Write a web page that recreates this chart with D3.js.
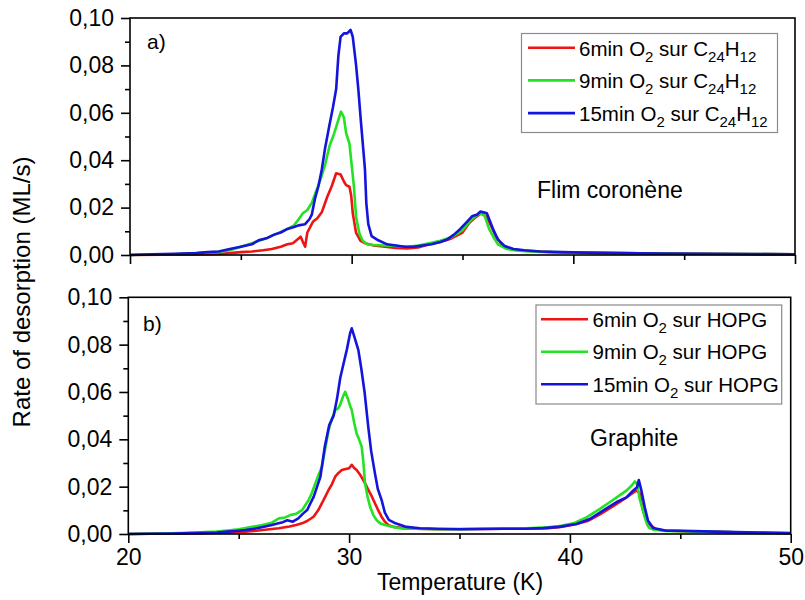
<!DOCTYPE html>
<html><head><meta charset="utf-8">
<script src="https://cdn.jsdelivr.net/npm/d3@7"></script>
<style>
body{margin:0;background:#fff}
svg{display:block}
text{font-family:Arial,"Liberation Sans",sans-serif;fill:#000}
</style>
</head><body><svg id="c" width="805" height="600"></svg>
<script>
// ---------- axis ticks ----------
const xTicks = [20, 30, 40, 50];
const xMinor = [25, 35, 45];
const yTicks = [0, 0.02, 0.04, 0.06, 0.08, 0.10];
const yMinor = [0.01, 0.03, 0.05, 0.07, 0.09];

// ---------- legend text ----------
const times = ["6min", "9min", "15min"];
const substrateA = "C24H12";
const substrateB = "HOPG";
const panelNotes = ["Flim coronène", "Graphite"];
const panelTags = ["a)", "b)"];

// ---------- panel a) : coronene film ----------
const T6a = [20,23,24,24.5,25,25.5,26,26.4,26.8,27.1,27.35,27.55,27.7,27.8,27.9,28.0,28.25,28.45,28.65,28.9,29.1,29.3,29.5,29.65,29.75,29.9,29.98,30.05,30.2,30.4,30.6,31.0,31.5,32,32.5,33,33.5,34,34.5,35,35.3,35.6,35.85,36.1,36.3,36.5,36.8,37.2,37.8,39,41,44,47,50];
const V6a = [0,0.0002,0.0004,0.0008,0.0012,0.0015,0.002,0.0025,0.0035,0.0045,0.005,0.0065,0.0077,0.0055,0.0035,0.0095,0.014,0.0155,0.018,0.0246,0.029,0.0345,0.034,0.031,0.0295,0.0288,0.025,0.0176,0.0093,0.006,0.005,0.004,0.0035,0.003,0.0028,0.0032,0.0045,0.0055,0.007,0.0095,0.0135,0.016,0.0176,0.016,0.012,0.008,0.004,0.0025,0.0018,0.0012,0.0009,0.0006,0.0004,0.0003];

const T9a = [20,22,23,24,24.5,25,25.5,26,26.5,27,27.4,27.6,27.8,28.0,28.2,28.4,28.6,28.8,29.0,29.2,29.4,29.52,29.65,29.75,29.9,30.0,30.1,30.2,30.35,30.5,30.7,31.0,31.5,32,32.5,33,33.5,34,34.5,35,35.3,35.6,35.8,36.0,36.2,36.4,36.6,37,37.5,38.5,40,42,45,48,50];
const V9a = [0,0.0003,0.0008,0.0013,0.002,0.0035,0.005,0.0065,0.0085,0.0105,0.0125,0.015,0.0176,0.019,0.022,0.027,0.032,0.038,0.046,0.051,0.057,0.0605,0.058,0.0514,0.047,0.038,0.029,0.016,0.009,0.006,0.0045,0.0042,0.004,0.0038,0.0035,0.004,0.005,0.006,0.0075,0.0105,0.014,0.0165,0.0176,0.0165,0.011,0.0075,0.0045,0.0025,0.0018,0.0013,0.001,0.0008,0.0005,0.0004,0.0003];

const T15a = [20,21,22,23,23.5,24,24.5,25,25.5,25.8,26.2,26.5,26.8,27.1,27.4,27.6,27.9,28.1,28.2,28.35,28.5,28.65,28.8,29.0,29.15,29.3,29.4,29.5,29.65,29.8,29.95,30.05,30.2,30.3,30.42,30.52,30.6,30.66,30.75,30.9,31.2,31.6,32.0,32.4,32.8,33.2,33.6,34.0,34.3,34.6,34.9,35.2,35.45,35.65,35.8,35.95,36.1,36.25,36.4,36.6,36.9,37.3,37.8,38.5,39.5,40.5,42,44,46,48,50];
const V15a = [0,0.0003,0.0005,0.0008,0.0012,0.0015,0.0025,0.0035,0.0045,0.0062,0.0072,0.0086,0.0095,0.011,0.0118,0.0125,0.013,0.0152,0.017,0.024,0.029,0.036,0.045,0.055,0.062,0.07,0.084,0.092,0.0935,0.0935,0.095,0.092,0.08,0.07,0.056,0.045,0.036,0.022,0.013,0.008,0.0062,0.0045,0.004,0.0035,0.0035,0.004,0.0045,0.0055,0.0065,0.0085,0.011,0.014,0.0165,0.017,0.0183,0.018,0.0176,0.014,0.0105,0.0065,0.0038,0.0025,0.002,0.0015,0.0012,0.001,0.0008,0.0006,0.0005,0.0004,0.0003];

// ---------- panel b) : graphite (HOPG) ----------
const T6b = [20,22,23,24,24.5,25,25.32,25.8,26.3,26.82,27.3,27.6,27.87,28.1,28.39,28.6,28.77,28.92,29.07,29.22,29.37,29.52,29.67,29.85,30.0,30.12,30.22,30.34,30.5,30.64,30.75,30.87,31.02,31.17,31.32,31.47,31.62,31.77,32.0,32.4,33,34,35,36,37,38,39,39.6,40.2,40.8,41.4,42.0,42.5,42.8,43.0,43.15,43.31,43.45,43.6,43.75,43.9,44.3,45,46,47,48,49,50];
const V6b = [0,0.0002,0.0003,0.0005,0.0007,0.0009,0.001,0.0014,0.0019,0.0024,0.0032,0.0038,0.0045,0.0055,0.0073,0.01,0.013,0.0158,0.0186,0.021,0.0242,0.0258,0.027,0.0275,0.0278,0.0292,0.028,0.027,0.025,0.0228,0.021,0.0186,0.016,0.013,0.01,0.0073,0.0052,0.0038,0.003,0.0025,0.0022,0.002,0.0021,0.0021,0.0022,0.0022,0.0024,0.003,0.004,0.0055,0.0085,0.012,0.015,0.017,0.0183,0.0175,0.0099,0.0065,0.0042,0.003,0.002,0.0015,0.0012,0.001,0.0008,0.0006,0.0004,0.0003];

const T9b = [20,22,23,24,24.5,25,25.5,26.07,26.5,26.82,27.1,27.34,27.6,27.87,28.0,28.17,28.3,28.47,28.62,28.77,28.9,29.07,29.2,29.37,29.5,29.59,29.72,29.82,29.95,30.05,30.12,30.23,30.34,30.45,30.57,30.65,30.72,30.83,30.95,31.1,31.24,31.4,31.62,32.0,32.3,33,34,35,36,37,38,39,39.6,40.15,40.75,41.36,41.8,42.2,42.56,42.8,42.94,43.05,43.16,43.28,43.39,43.5,43.6,43.8,44.3,45,46,47,48,49,50];
const V9b = [0,0.0003,0.0006,0.001,0.0015,0.002,0.0028,0.0038,0.0048,0.0066,0.007,0.008,0.0085,0.0101,0.012,0.0144,0.017,0.0214,0.025,0.0284,0.035,0.0439,0.048,0.0524,0.053,0.0545,0.058,0.0601,0.057,0.054,0.0524,0.047,0.0425,0.04,0.0369,0.03,0.0214,0.016,0.0115,0.008,0.0059,0.0045,0.0038,0.003,0.0024,0.0022,0.002,0.002,0.0022,0.0022,0.0024,0.0028,0.0035,0.0045,0.007,0.0106,0.0134,0.016,0.0183,0.0205,0.0222,0.021,0.0148,0.011,0.007,0.004,0.0025,0.0018,0.0013,0.0012,0.001,0.0008,0.0006,0.0004,0.0003];

const T15b = [20,22,23,24,24.5,25,25.3,25.7,26.1,26.5,26.8,27.0,27.2,27.45,27.7,27.9,28.1,28.25,28.4,28.55,28.7,28.9,29.1,29.3,29.45,29.6,29.75,29.9,30.05,30.12,30.25,30.42,30.55,30.7,30.87,31.0,31.17,31.3,31.47,31.62,31.8,32.1,32.6,33.2,34,35,36,37,38,38.8,39.5,40.0,40.3,40.9,41.5,42.1,42.56,42.86,43.04,43.12,43.24,43.39,43.54,43.77,44.37,45,45.6,46.5,47.5,48.5,49.3,50];
const V15b = [0,0.0002,0.0004,0.0006,0.001,0.0014,0.0017,0.0022,0.003,0.0038,0.0045,0.005,0.0058,0.0052,0.0066,0.0085,0.0101,0.013,0.0158,0.02,0.0242,0.037,0.046,0.05,0.057,0.066,0.072,0.078,0.085,0.0869,0.083,0.0777,0.07,0.06,0.045,0.035,0.0256,0.019,0.0144,0.009,0.006,0.0045,0.003,0.0024,0.0022,0.002,0.0021,0.0022,0.0022,0.0025,0.003,0.0038,0.0042,0.0063,0.0099,0.0134,0.0155,0.0183,0.0197,0.0228,0.0183,0.0113,0.0056,0.0025,0.0014,0.0014,0.0012,0.001,0.0008,0.0006,0.0005,0.0004];

// ---------- drawing ----------
const colors = ["#ee1414", "#22e222", "#1414dc"];
const svg = d3.select("#c");
const fmt = d => d3.format(".2f")(d).replace(".", ",");

const panels = [
  { box: [130, 795, 18, 255], data: [[T6a, V6a], [T9a, V9a], [T15a, V15a]], showX: false,
    tag: [147, 49], note: [537, 198], sub: substrateA,
    leg: { x: 521.5, y: 33.5, w: 256, h: 99, lx0: 528, lx1: 575, ly0: 47.7, dy: 32.7, tx: 579, tdy: 8 } },
  { box: [128.3, 790.7, 297.3, 534], data: [[T6b, V6b], [T9b, V9b], [T15b, V15b]], showX: true,
    tag: [143, 331], note: [590, 446], sub: substrateB,
    leg: { x: 536, y: 305, w: 245.7, h: 99, lx0: 541, lx1: 588, ly0: 319.3, dy: 32.5, tx: 592.5, tdy: 7.5 } }
];

panels.forEach((p, pi) => {
  const [x0, x1, y0, y1] = p.box;
  const x = d3.scaleLinear().domain([20, 50]).range([x0, x1]);
  const y = d3.scaleLinear().domain([0, 0.10]).range([y1, y0]);
  const g = svg.append("g");

  const line = d3.line().x(d => x(d[0])).y(d => y(d[1]));
  p.data.forEach(([T, V], i) => {
    const pts = T.map((t, k) => [t, V[k]]);
    g.append("path").datum(pts).attr("d", line)
      .attr("fill", "none").attr("stroke", colors[i])
      .attr("stroke-width", 2.6).attr("stroke-linejoin", "round");
  });

  const ya = g.append("g").attr("transform", `translate(${x0},0)`)
    .call(d3.axisLeft(y).tickValues(yTicks).tickSize(9).tickPadding(7).tickSizeOuter(0).tickFormat(fmt));
  const ym = g.append("g").attr("transform", `translate(${x0},0)`)
    .call(d3.axisLeft(y).tickValues(yMinor).tickSize(5).tickSizeOuter(0).tickFormat(""));
  const xa = g.append("g").attr("transform", `translate(0,${y1})`)
    .call(d3.axisBottom(x).tickValues(xTicks).tickSize(9).tickPadding(6).tickSizeOuter(0)
      .tickFormat(p.showX ? d3.format("d") : ""));
  const xm = g.append("g").attr("transform", `translate(0,${y1})`)
    .call(d3.axisBottom(x).tickValues(xMinor).tickSize(5).tickSizeOuter(0).tickFormat(""));
  [ya, ym, xa, xm].forEach(a => {
    a.select(".domain").remove();
    a.selectAll("line").attr("stroke", "#000").attr("stroke-width", 1.6);
    a.selectAll("text").attr("font-size", 23).attr("font-family", "Arial, 'Liberation Sans', sans-serif").attr("fill", "#000");
  });

  g.append("rect").attr("x", x0).attr("y", y0).attr("width", x1 - x0).attr("height", y1 - y0)
    .attr("fill", "none").attr("stroke", "#000").attr("stroke-width", 1.6);

  g.append("text").attr("x", p.tag[0]).attr("y", p.tag[1]).attr("font-size", 21).text(panelTags[pi]);
  g.append("text").attr("x", p.note[0]).attr("y", p.note[1]).attr("font-size", 23).text(panelNotes[pi]);

  const L = p.leg;
  g.append("rect").attr("x", L.x).attr("y", L.y).attr("width", L.w).attr("height", L.h)
    .attr("fill", "#fff").attr("stroke", "#8a8a8a").attr("stroke-width", 1.2);
  times.forEach((tm, i) => {
    const ly = L.ly0 + i * L.dy;
    g.append("line").attr("x1", L.lx0).attr("x2", L.lx1).attr("y1", ly).attr("y2", ly)
      .attr("stroke", colors[i]).attr("stroke-width", 2.6);
    const t = g.append("text").attr("x", L.tx).attr("y", ly + L.tdy).attr("font-size", 20.5);
    const segs = [[tm + " O", false], ["2", true], [" sur ", false]];
    if (p.sub === substrateA) {
      segs.push(["C", false], ["24", true], ["H", false], ["12", true]);
    } else {
      segs.push([p.sub, false]);
    }
    let shifted = false;
    segs.forEach(([s, isSub]) => {
      const ts = t.append("tspan").text(s);
      if (isSub && !shifted) { ts.attr("dy", 6).attr("font-size", 15); shifted = true; }
      else if (isSub) { ts.attr("font-size", 15); }
      else if (!isSub && shifted) { ts.attr("dy", -6); shifted = false; }
    });
  });
});

svg.append("text").attr("x", 460).attr("y", 590).attr("text-anchor", "middle")
  .attr("font-size", 23).text("Temperature (K)");
svg.append("text").attr("transform", "translate(30,292) rotate(-90)").attr("text-anchor", "middle")
  .attr("font-size", 24).text("Rate of desorption (ML/s)");
</script>
</body></html>
